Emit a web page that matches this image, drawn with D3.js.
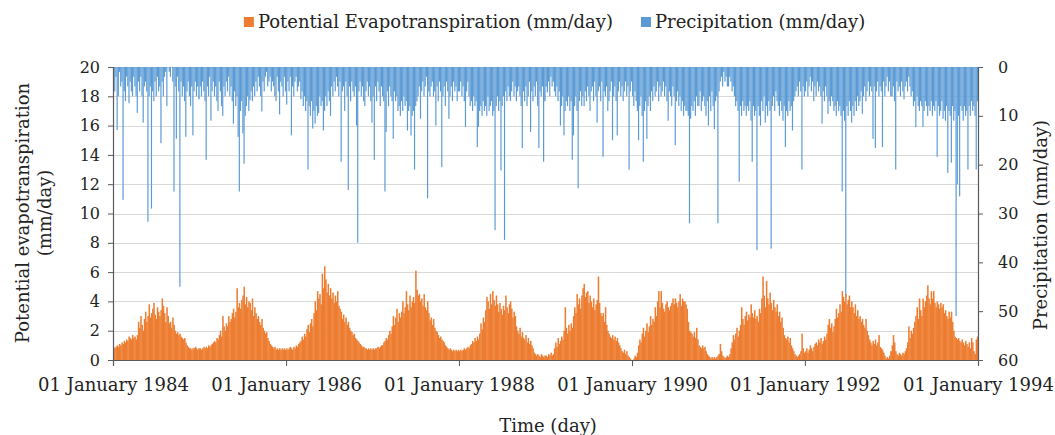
<!DOCTYPE html>
<html><head><meta charset="utf-8">
<script src="https://cdn.jsdelivr.net/npm/d3@7"></script>
<style>
body{margin:0;background:#fff}
svg{display:block}
text{font-family:"DejaVu Serif",serif;fill:#222}
</style>
</head><body>
<svg id="c" width="1055" height="435"></svg>
<script>
// ---- data: 5-day bins, 73 per year ----
const years = [1984,1985,1986,1987,1988,1989,1990,1991,1992,1993];

const pet1984 = [0.9,0.8,0.9,1.0,0.9,1.1,1.0,1.2,1.1,1.3,1.2,1.4,1.3,1.6,1.5,1.4,1.7,1.5,1.6,1.4,1.7,2.6,2.2,3.0,2.4,2.0,2.8,3.3,2.6,3.0,3.8,2.9,3.2,3.5,3.9,3.1,2.8,3.6,3.3,3.0,3.4,4.2,3.7,3.2,2.6,3.6,3.0,2.5,2.6,2.2,2.9,2.4,2.0,1.8,1.9,1.7,1.8,1.6,1.5,1.4,1.5,1.2,1.0,0.9,0.8,0.8,0.7,0.8,0.8,0.9,0.8,0.7,0.8];
const pet1985 = [0.8,0.7,0.8,0.9,0.8,0.9,0.8,1.0,0.9,1.0,1.1,1.2,1.3,1.2,1.5,1.4,1.7,2.0,1.6,3.0,2.3,2.0,2.5,2.3,3.0,2.6,2.8,3.2,3.5,2.9,3.3,4.9,3.6,3.9,3.5,4.1,4.4,5.0,3.8,4.3,3.6,4.0,3.9,3.4,4.2,3.0,3.6,3.2,2.8,3.0,2.6,2.4,2.8,2.2,2.0,1.8,1.9,1.5,1.3,1.1,1.0,0.9,0.8,0.9,0.7,0.8,0.7,0.8,0.7,0.8,0.7,0.8,0.7];
const pet1986 = [0.8,0.7,0.8,0.9,0.8,0.7,0.9,0.8,1.0,0.9,1.1,1.2,1.3,1.6,1.4,1.8,1.6,2.1,2.4,1.9,2.5,2.8,2.3,3.2,4.0,3.4,4.7,4.2,4.5,3.8,5.9,4.9,6.4,5.5,4.6,5.2,4.4,4.9,4.2,4.6,3.9,4.4,4.0,4.7,3.7,3.5,3.3,2.8,3.1,2.6,2.9,2.4,2.6,2.2,2.0,1.9,1.7,1.8,1.5,1.4,1.3,1.2,1.1,1.0,0.9,0.9,0.8,0.8,0.7,0.8,0.7,0.8,0.7];
const pet1987 = [0.8,0.7,0.8,0.8,0.9,0.8,0.9,1.0,1.0,1.2,1.3,1.5,1.4,1.7,2.0,1.8,2.3,3.0,2.4,2.9,3.5,2.6,3.2,2.9,3.3,4.0,3.2,3.6,4.7,3.8,3.4,4.4,3.6,4.0,4.3,3.9,6.1,4.8,4.4,4.5,4.0,4.2,3.7,4.5,3.6,3.4,4.0,3.2,2.7,2.9,2.4,2.8,2.2,2.0,1.9,1.7,1.5,1.6,1.4,1.3,1.2,1.0,0.9,0.8,0.7,0.8,0.7,0.6,0.7,0.6,0.7,0.6,0.7];
const pet1988 = [0.6,0.7,0.6,0.7,0.8,0.7,0.8,0.9,0.8,1.0,1.1,1.3,1.2,1.5,1.3,1.6,1.4,1.8,2.5,2.1,2.9,2.6,3.4,4.3,4.0,3.5,4.5,3.8,4.7,4.1,3.7,4.4,3.8,3.3,3.9,3.5,3.1,3.7,3.4,4.4,3.6,3.2,3.8,4.0,3.5,2.9,3.3,3.0,2.3,2.0,1.8,2.2,1.6,1.9,1.5,1.4,1.7,1.2,1.5,1.1,1.3,1.0,0.8,0.5,0.4,0.3,0.4,0.3,0.2,0.4,0.3,0.2,0.3];
const pet1989 = [0.3,0.2,0.4,0.3,0.5,0.3,0.4,0.8,1.2,0.9,1.5,1.1,1.3,1.6,1.4,2.0,3.6,2.2,1.8,2.4,2.0,2.5,2.2,3.0,3.6,3.2,4.5,3.8,4.2,3.5,4.4,4.9,5.2,4.3,4.6,4.7,3.9,4.4,4.0,3.6,4.2,3.4,3.8,4.1,5.7,3.9,3.2,3.0,3.2,2.6,3.6,2.4,2.0,1.8,1.6,1.5,1.7,1.4,1.6,1.3,1.5,1.2,1.0,0.8,0.6,0.5,0.7,0.4,0.6,0.3,0.2,0.1,0.0];
const pet1990 = [0.0,0.1,0.3,0.2,0.5,1.0,1.4,1.2,1.8,2.2,1.6,2.0,2.5,1.9,2.3,3.0,2.4,2.8,2.6,3.6,3.0,4.0,4.7,3.6,4.7,3.9,3.5,3.3,3.8,4.0,3.6,3.4,3.7,3.9,4.2,3.8,4.2,3.9,3.6,4.0,4.5,3.7,4.2,4.0,4.0,3.8,3.5,2.6,2.0,1.9,1.8,1.6,1.9,1.5,2.2,1.4,1.0,0.9,0.8,1.0,0.8,0.9,0.6,0.4,0.3,0.2,0.1,0.2,0.1,0.2,0.1,0.2,0.3];
const pet1991 = [0.4,1.1,0.6,0.3,0.2,0.1,0.2,0.3,0.2,0.4,0.8,1.2,1.7,1.4,1.8,2.2,1.6,2.0,2.4,3.6,2.8,2.4,3.0,3.3,2.7,3.1,2.9,3.8,3.2,2.9,3.4,2.8,3.0,2.6,3.5,3.2,4.2,5.7,4.4,3.6,5.4,4.2,3.8,4.6,3.9,3.4,4.1,3.6,3.3,3.8,3.0,3.3,2.6,2.9,2.2,1.7,1.5,1.4,1.6,1.2,1.5,1.0,0.8,0.6,0.4,0.3,0.2,0.3,0.4,0.6,1.8,0.8,0.5];
const pet1992 = [0.6,0.8,0.5,0.7,1.0,0.8,0.6,0.9,1.1,1.2,1.0,1.4,1.2,1.5,1.1,1.3,1.6,1.4,1.8,2.4,2.8,2.2,2.5,1.9,2.3,2.8,3.5,2.9,3.2,3.8,3.3,4.7,4.3,4.0,4.5,3.8,4.1,4.4,3.6,4.0,3.6,3.2,3.8,3.0,3.4,2.8,3.0,2.6,2.8,2.4,2.2,2.8,2.0,1.7,1.4,1.2,1.0,1.3,1.1,1.4,1.0,1.2,1.7,0.9,0.8,0.7,0.5,0.3,0.1,0.2,0.1,0.3,0.6];
const pet1993 = [1.0,1.7,1.2,0.6,0.4,0.3,0.5,0.4,0.3,0.5,0.4,0.6,0.8,1.2,2.3,1.5,2.0,1.8,2.2,2.6,3.0,3.6,2.8,4.2,3.4,3.0,4.2,3.6,4.0,4.4,5.1,4.2,3.8,4.7,4.2,4.7,3.9,3.6,4.0,3.8,3.5,3.9,3.6,3.8,3.2,3.4,3.0,2.8,3.3,2.9,3.3,2.6,2.0,1.6,1.5,1.4,1.5,1.3,1.2,1.4,1.2,1.0,1.3,1.1,0.9,1.2,0.8,1.5,1.2,0.6,0.4,1.4,1.6];

const prc1984 = [3,5,2,12.9,6,1,4,3,27.2,5,7,2,4,7.4,3,5,6,2,4,6,9.4,3,5,2,6,11.4,4,3,5,31.7,6,4,29,5,7,3,6,2,5,4,15.6,3,6,2,1,8,0,1,2,0,3,25.5,4,14.7,2,5,45,3,6,4,7,14.3,5,3,6,8,4,14,5,3,6,4,6.6];
const prc1985 = [4,6,3,5,7,19,4,6,2,11,5,3,6,4,7,9,3,5,8,10,4,6,3,5,2,6,4,7,11.6,5,8,6,14.3,25.5,9,7,13.6,19.8,10,8,6,9,6.8,5,7,4,6,3,5,2,4,6,9.1,3,5,2,1,4,3,2,5,3,4,6,7,2,5,9.7,3,4,6,2,5];
const prc1986 = [7.7,3,5,2,14,4,6,3,2,5,4,3,6.6,5,8,6,9,7,21,8,10,7,12.6,9,11.6,8,10,9.4,6,8,7,13,9,6,8,5,7,10,4,6,3,5,2,4,6,3,19.4,5,4,9,3,6,25.2,4,7,3,5,6,4,12,36,5,3,6,4,7,8,5,3,6,4,7,11.4];
const prc1987 = [6,19,4,7,3,5,8,4,6,7,25.5,13.3,5,8,4,6,7,14.7,5,7,6,9,8,10,7,9,6,8,7,13,9,8,14,10,9,21,8,7,6,4,10.6,5,3,6,4,2,26.9,5,6,4,3,6,5,12,4,7,3,5,20.5,6,4,8,3,5,10.6,6,4,7,3,5,4,7,5];
const prc1988 = [5,3,6,4,7,12.3,5,3,6,8,7,9,6,8,7,16.4,12.3,9,8,10,7,9,8,10,6,9,8,7,10,9,33.4,8,6,9,7,21.2,8,6,35.4,5,7,4,6,7,5,3,6,4,7,5,4,6,8,16.6,5,7,4,8,6,3,13.3,5,7,4,6,3,8,16.6,5,6,4,19.4,7];
const prc1989 = [4,5.2,3,6,2,4,3,5,6,4,7,5,12,8,6,14,9,7,8,6,9,7,19,14,8,6,9,24.8,7,5,8,6,8,5,7,4,6,9,5,4,7,3,6,11.4,5,4,7,3,18.4,5,6,4,9,7,5,3,15,6,4,7,14,5,3,6,4,7,5,3,6,4,21,5,3];
const prc1990 = [6,8,5,7,9,15,8,6,10,19.4,9,7,14.7,8,6,9,5,7,4,6,5,3,7,4,6,5,3,6,4,7,11,5,6,8,4,6,16,7,5,8,6,9,7,10,8,9,9,10,32,10.6,8,9,7,10,6,8,8,5,9,7,6,8,10,7,12,6,9,5,8,12.7,7,6,32];
const prc1991 = [5,3,2,4,1,3,2,4,4,2,3,5,4,6,8,7,9,23.5,8,10,7,9,8,10,8,9,7,11,19.4,8,10,9,37.5,8,10,12,7,9,6,11.4,8,10,7,9,37.2,8,6,9,5,7,8,10,7,9,11,8,16.4,9,10,7,9,8,13,7,6,5,4,6,3,5,21,4,6];
const prc1992 = [5,3,6,4,2,5,3,7,4,6,3,5,4,6,11.6,5,7,4,6,9.6,7,8,6,7,9,8,10,7,9,8,10,25.5,9,11,47,8,10,7,9,11.4,8,10,7,9,6,8,7,5,9.6,6,4,7,5,3,6,4,5,14.7,4,16.6,5,3,6,4,5,16.4,3,6,4,2,5,3,6];
const prc1993 = [6,4,7,21,3,5,4,6,3,5,6.6,4,3,5,2,4,6,5,8,7,12.3,6,8,9,7,8,12.3,9,7,8,10,8,9,7,10,8,9,7,18.4,8,10,9,7,10.6,9,11,8,21.7,9,10,19.6,8,11,9,51,24,10,26.5,8,9,11,8,10,9,21,8,10,7,9,8,10,21,7];

const petByYear = [pet1984,pet1985,pet1986,pet1987,pet1988,pet1989,pet1990,pet1991,pet1992,pet1993];
const prcByYear = [prc1984,prc1985,prc1986,prc1987,prc1988,prc1989,prc1990,prc1991,prc1992,prc1993];

const petTicks = [0,2,4,6,8,10,12,14,16,18,20];
const prcTicks = [0,10,20,30,40,50,60];
const dateTickYears = [1984,1986,1988,1990,1992,1994];
const seriesNames = ["Potential Evapotranspiration (mm/day)","Precipitation (mm/day)"];
const seriesColors = ["#ED7D31","#5B9BD5"];

// ---- layout ----
const m = {l:113, r:978, t:67, b:360};
const svg = d3.select("#c");
const FS = 18;

const x = d3.scaleTime().domain([new Date(1984,0,1), new Date(1994,0,1)]).range([m.l, m.r]);
const yL = d3.scaleLinear().domain([0,20]).range([m.b, m.t]);
const yR = d3.scaleLinear().domain([0,60]).range([m.t, m.b]);

const rows = [];
years.forEach((yr,k) => {
  const n = petByYear[k].length;
  const end = new Date(yr+1,0,1);
  for (let i=0;i<n;i++){
    const d0 = new Date(yr,0,1+5*i);
    const d1 = (i===n-1) ? end : new Date(yr,0,1+5*(i+1));
    rows.push({d0, d1, pet: petByYear[k][i], prc: prcByYear[k][i]});
  }
});

// gridlines
svg.append("g").selectAll("line").data(petTicks.filter(t=>t>0)).join("line")
  .attr("x1", m.l).attr("x2", m.r)
  .attr("y1", d=>Math.round(yL(d))+0.5).attr("y2", d=>Math.round(yL(d))+0.5)
  .attr("stroke", "#d9d9d9").attr("stroke-width", 1);

// precipitation bars (hanging from top)
svg.append("g").selectAll("rect").data(rows).join("rect")
  .attr("x", d=>x(d.d0))
  .attr("width", d=>Math.max(0.6, x(d.d1)-x(d.d0)))
  .attr("y", yR(0))
  .attr("height", d=>yR(d.prc)-yR(0))
  .attr("fill", seriesColors[1]);

// PET bars
svg.append("g").selectAll("rect").data(rows).join("rect")
  .attr("x", d=>x(d.d0))
  .attr("width", d=>x(d.d1)-x(d.d0)+0.35)
  .attr("y", d=>yL(d.pet))
  .attr("height", d=>yL(0)-yL(d.pet))
  .attr("fill", seriesColors[0]);

// axes
const axisColor = "#595959";
const gL = svg.append("g").attr("transform",`translate(${m.l},0)`)
  .call(d3.axisLeft(yL).tickValues(petTicks).tickSize(5).tickPadding(8).tickFormat(d3.format("d")));
const gR = svg.append("g").attr("transform",`translate(${m.r},0)`)
  .call(d3.axisRight(yR).tickValues(prcTicks).tickSize(5).tickPadding(15).tickFormat(d3.format("d")));
const gB = svg.append("g").attr("transform",`translate(0,${m.b})`)
  .call(d3.axisBottom(x).tickValues(dateTickYears.map(y=>new Date(y,0,1))).tickSize(6).tickPadding(12)
    .tickFormat(d=>"01 January " + d.getFullYear()));
[gL,gR,gB].forEach(g=>{
  g.selectAll("path.domain").attr("stroke", axisColor).attr("stroke-width",1.2);
  g.selectAll(".tick line").attr("stroke", axisColor);
  g.selectAll("text").attr("font-family","DejaVu Serif").attr("fill","#222");
});
gL.selectAll("text").attr("font-size",16);
gR.selectAll("text").attr("font-size",16).attr("text-anchor","start");
gB.selectAll("text").attr("font-size",FS);

// axis titles
svg.append("text").attr("transform","translate(29,213) rotate(-90)").attr("text-anchor","middle")
  .attr("font-size",FS).text("Potential evapotranspiration");
svg.append("text").attr("transform","translate(51,213) rotate(-90)").attr("text-anchor","middle")
  .attr("font-size",FS).text("(mm/day)");
svg.append("text").attr("transform","translate(1047,225) rotate(-90)").attr("text-anchor","middle")
  .attr("font-size",FS).text("Precipitation (mm/day)");
svg.append("text").attr("x",548).attr("y",432).attr("text-anchor","middle")
  .attr("font-size",FS).text("Time (day)");

// legend: blue entry starts at x=641, orange entry placed to its left
const lg = svg.append("g");
const items = seriesNames.map((name,i)=>{
  const g = lg.append("g");
  g.append("rect").attr("width",10).attr("height",10).attr("y",-11).attr("fill",seriesColors[i]);
  const t = g.append("text").attr("x",14).attr("y",0).attr("font-size",FS).text(name);
  return {g, w: 14 + t.node().getComputedTextLength()};
});
const blueX = 641, gap = 28;
items[1].g.attr("transform",`translate(${blueX},28)`);
items[0].g.attr("transform",`translate(${blueX - gap - items[0].w},28)`);
</script>
</body></html>
